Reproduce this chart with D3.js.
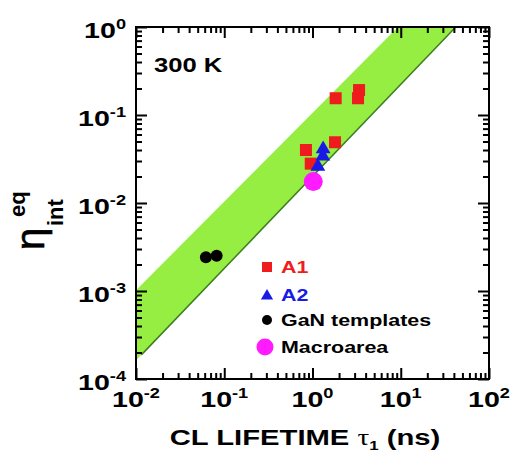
<!DOCTYPE html>
<html><head><meta charset="utf-8">
<script src="https://cdn.jsdelivr.net/npm/d3@7"></script>
<style>body{margin:0;background:#fff}svg{display:block}</style>
</head><body>
<svg id="c" width="512" height="458"></svg>
<script>
// ---- data ----
const xMajor = [1e-2, 1e-1, 1, 10, 100];
const xExp = ["-2", "-1", "0", "1", "2"];
const yMajor = [1e-4, 1e-3, 1e-2, 1e-1, 1];
const yExp = ["-4", "-3", "-2", "-1", "0"];
const a1Tau = [1.83, 3.37, 3.28, 1.80, 0.843, 0.955];
const a1Eta = [0.155, 0.192, 0.155, 0.049, 0.040, 0.028];
const a2Tau = [1.32, 1.31, 1.15];
const a2Eta = [0.041, 0.034, 0.026];
const ganTau = [0.062, 0.082];
const ganEta = [0.00242, 0.00252];
const macroTau = [1.02];
const macroEta = [0.0175];
const bandUpper = [[0.01, 1.02e-3], [9.3, 1]];
const bandLower = [[0.01, 1.63e-4], [42, 1]];
const lowerLine = [[0.0115, 1.88e-4], [42, 1]];
const legendLabels = ["A1", "A2", "GaN templates", "Macroarea"];
const legendColors = ["#ee1c1c", "#1a1ae6", "#000000", "#000000"];

// ---- layout ----
const svg = d3.select("#c");
const L = 136, R = 489, T = 27, B = 379;
const x = d3.scaleLog().domain([1e-2, 1e2]).range([L, R]);
const y = d3.scaleLog().domain([1e-4, 1]).range([B, T]);
const SX = 1.3;
const FONT = "'Liberation Sans', Arial, sans-serif";

// band
const poly = [bandUpper[0], bandUpper[1], bandLower[1], bandLower[0]];
svg.append("path")
  .attr("d", d3.line().x(d => x(d[0])).y(d => y(d[1]))(poly) + "Z")
  .attr("fill", "#96ee42");
svg.append("path")
  .attr("d", d3.line().x(d => x(d[0])).y(d => y(d[1]))(lowerLine))
  .attr("stroke", "#3d7d1e").attr("stroke-width", 1.5).attr("fill", "none");

// minor ticks
const minors = [];
for (let d = -4; d <= 1; d++) for (let k = 2; k <= 9; k++) minors.push(k * Math.pow(10, d));
const xMin = minors.filter(v => v > 1e-2 && v < 1e2);
const yMin = minors.filter(v => v > 1e-4 && v < 1);

function ax(gen, tx, ty, vals, size) {
  const g = svg.append("g").attr("transform", `translate(${tx},${ty})`)
    .call(gen.tickValues(vals).tickSize(-size).tickFormat(""));
  g.select(".domain").remove();
  g.selectAll("line").attr("stroke", "#000").attr("stroke-width", 2);
}
ax(d3.axisBottom(x), 0, B, xMin, 6); ax(d3.axisBottom(x), 0, B, xMajor, 11);
ax(d3.axisTop(x), 0, T, xMin, 6); ax(d3.axisTop(x), 0, T, xMajor, 11);
ax(d3.axisLeft(y), L, 0, yMin, 6); ax(d3.axisLeft(y), L, 0, yMajor, 11);
ax(d3.axisRight(y), R, 0, yMin, 6); ax(d3.axisRight(y), R, 0, yMajor, 11);

svg.append("rect").attr("x", L).attr("y", T).attr("width", R - L).attr("height", B - T)
  .attr("fill", "none").attr("stroke", "#000").attr("stroke-width", 2);

// scaled text helper
function stext(px, py, anchor, size, sx) {
  const g = svg.append("g").attr("transform", `translate(${px},${py}) scale(${sx},1)`);
  return g.append("text").attr("text-anchor", anchor).attr("font-family", FONT)
    .attr("font-weight", "bold").attr("font-size", size);
}
// tick labels
xMajor.forEach((v, i) => {
  const t = stext(x(v), 407, "middle", 22, SX);
  t.append("tspan").text("10");
  t.append("tspan").attr("font-size", 14).attr("dy", -9).text(xExp[i]);
});
yMajor.forEach((v, i) => {
  const t = stext(126, y(v) + 11, "end", 22, SX);
  t.append("tspan").text("10");
  t.append("tspan").attr("font-size", 14).attr("dy", -9).text(yExp[i]);
});

// x title
{
  const t = stext(305, 445, "middle", 22.5, SX);
  t.append("tspan").text("CL LIFETIME ");
  t.append("tspan").attr("font-family", "'Liberation Serif', serif").attr("font-weight", "normal").text("τ");
  t.append("tspan").attr("font-size", 13).attr("dy", 5).text("1");
  t.append("tspan").attr("dy", -5).text(" (ns)");
}
// y title
{
  const g = svg.append("g").attr("transform", "translate(44,250) rotate(-90)");
  g.append("text").attr("x", 0).attr("y", 0).attr("font-family", FONT).attr("font-size", 40)
    .attr("stroke", "#000").attr("stroke-width", 0.6).text("η");
  g.append("text").attr("x", 24).attr("y", 19).attr("font-family", FONT).attr("font-weight", "bold").attr("font-size", 22).text("int");
  g.append("text").attr("x", 33).attr("y", -19).attr("font-family", FONT).attr("font-weight", "bold").attr("font-size", 22).text("eq");
}
// 300 K
stext(154, 72, "start", 20.5, 1.25).text("300 K");

// data marks
const tri = d3.symbol().type(d3.symbolTriangle).size(95);
svg.append("g").selectAll("rect").data(a1Tau).join("rect")
  .attr("x", (d, i) => x(d) - 6).attr("y", (d, i) => y(a1Eta[i]) - 6)
  .attr("width", 12).attr("height", 12).attr("fill", "#ee1c1c");
svg.append("g").selectAll("path").data(a2Tau).join("path")
  .attr("d", tri).attr("transform", (d, i) => `translate(${x(d)},${y(a2Eta[i])})`)
  .attr("fill", "#1a1ae6");
svg.append("g").selectAll("circle").data(ganTau).join("circle")
  .attr("cx", d => x(d)).attr("cy", (d, i) => y(ganEta[i])).attr("r", 6).attr("fill", "#000");
svg.append("g").selectAll("circle").data(macroTau).join("circle")
  .attr("cx", d => x(d)).attr("cy", (d, i) => y(macroEta[i])).attr("r", 9.5).attr("fill", "#ff1aff");

// legend
const lx = 267, rows = [267, 295, 320, 347];
svg.append("rect").attr("x", lx - 5).attr("y", rows[0] - 5).attr("width", 10).attr("height", 10).attr("fill", "#ee1c1c");
svg.append("path").attr("d", d3.symbol().type(d3.symbolTriangle).size(65)).attr("transform", `translate(${lx},${rows[1] + 1})`).attr("fill", "#1a1ae6");
svg.append("circle").attr("cx", lx).attr("cy", rows[2]).attr("r", 5).attr("fill", "#000");
svg.append("circle").attr("cx", lx - 2).attr("cy", rows[3]).attr("r", 8.5).attr("fill", "#ff1aff");
legendLabels.forEach((s, i) => {
  stext(281, rows[i] + 6, "start", 16.5, SX).attr("fill", legendColors[i]).text(s);
});
</script>
</body></html>
